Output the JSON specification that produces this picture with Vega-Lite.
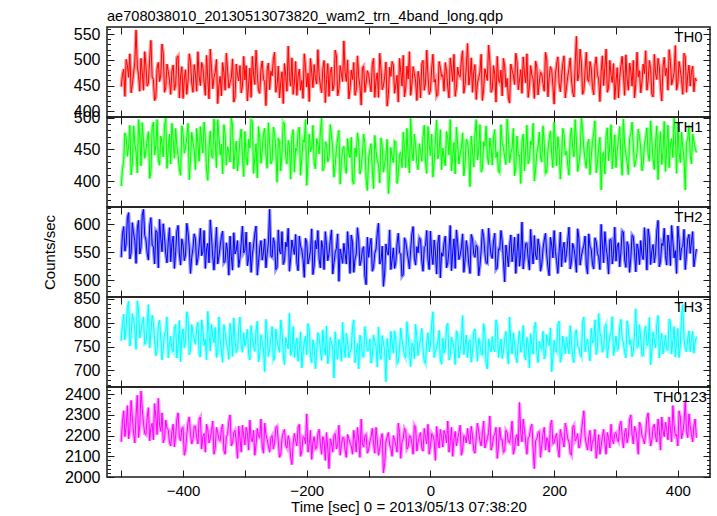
{
"$schema": "https://vega.github.io/schema/vega-lite/v6.json",
"background": "white",
"padding": {"left": 41, "top": 8, "right": 6, "bottom": 2},
"spacing": 0,
"bounds": "flush",
"config": {
 "font": "Liberation Sans",
 "view": {"stroke": "#1a1a1a", "strokeWidth": 1.5},
 "axis": {"domain": false, "grid": false, "tickColor": "#1a1a1a", "tickWidth": 1, "labelFont": "Liberation Sans", "labelFontSize": 15, "labelColor": "#000", "titleFont": "Liberation Sans", "titleFontSize": 15, "titleFontWeight": "normal", "titleColor": "#000", "labelFlush": false, "labelOverlap": false, "format": "d"},
 "axisY": {"labelFontSize": 16}
},
"datasets": {"d": [
{"t":-500,"TH0":448,"TH1":392,"TH2":541,"TH3":762,"TH0123":2170},
{"t":-496,"TH0":482,"TH1":431,"TH2":596,"TH3":818,"TH0123":2320},
{"t":-492,"TH0":501,"TH1":468,"TH2":566,"TH3":791,"TH0123":2245},
{"t":-488,"TH0":466,"TH1":455,"TH2":621,"TH3":845,"TH0123":2185},
{"t":-484,"TH0":436,"TH1":410,"TH2":548,"TH3":773,"TH0123":2370},
{"t":-480,"TH0":474,"TH1":487,"TH2":583,"TH3":806,"TH0123":2210},
{"t":-476,"TH0":558,"TH1":446,"TH2":530,"TH3":744,"TH0123":2300},
{"t":-472,"TH0":470,"TH1":497,"TH2":607,"TH3":829,"TH0123":2190},
{"t":-468,"TH0":503,"TH1":424,"TH2":559,"TH3":785,"TH0123":2415},
{"t":-464,"TH0":441,"TH1":462,"TH2":627,"TH3":812,"TH0123":2260},
{"t":-460,"TH0":487,"TH1":449,"TH2":572,"TH3":757,"TH0123":2205},
{"t":-456,"TH0":455,"TH1":478,"TH2":536,"TH3":838,"TH0123":2335},
{"t":-452,"TH0":538,"TH1":415,"TH2":612,"TH3":779,"TH0123":2240},
{"t":-448,"TH0":462,"TH1":493,"TH2":560,"TH3":801,"TH0123":2180},
{"t":-444,"TH0":428,"TH1":456,"TH2":589,"TH3":731,"TH0123":2290},
{"t":-440,"TH0":495,"TH1":432,"TH2":522,"TH3":794,"TH0123":2380},
{"t":-436,"TH0":471,"TH1":471,"TH2":574,"TH3":768,"TH0123":2220},
{"t":-432,"TH0":512,"TH1":438,"TH2":601,"TH3":745,"TH0123":2165},
{"t":-428,"TH0":446,"TH1":499,"TH2":547,"TH3":782,"TH0123":2275},
{"t":-424,"TH0":478,"TH1":451,"TH2":568,"TH3":726,"TH0123":2230},
{"t":-420,"TH0":433,"TH1":427,"TH2":533,"TH3":771,"TH0123":2150},
{"t":-416,"TH0":490,"TH1":466,"TH2":579,"TH3":739,"TH0123":2255},
{"t":-412,"TH0":452,"TH1":483,"TH2":551,"TH3":796,"TH0123":2200},
{"t":-408,"TH0":508,"TH1":440,"TH2":598,"TH3":752,"TH0123":2310},
{"t":-404,"TH0":469,"TH1":409,"TH2":527,"TH3":718,"TH0123":2175},
{"t":-400,"TH0":425,"TH1":475,"TH2":563,"TH3":787,"TH0123":2240},
{"t":-396,"TH0":481,"TH1":452,"TH2":545,"TH3":760,"TH0123":2130},
{"t":-392,"TH0":459,"TH1":491,"TH2":586,"TH3":809,"TH0123":2265},
{"t":-388,"TH0":497,"TH1":433,"TH2":512,"TH3":743,"TH0123":2210},
{"t":-384,"TH0":437,"TH1":460,"TH2":557,"TH3":778,"TH0123":2180},
{"t":-380,"TH0":472,"TH1":418,"TH2":574,"TH3":755,"TH0123":2245},
{"t":-376,"TH0":516,"TH1":457,"TH2":539,"TH3":801,"TH0123":2160},
{"t":-372,"TH0":450,"TH1":486,"TH2":593,"TH3":728,"TH0123":2290},
{"t":-368,"TH0":486,"TH1":444,"TH2":550,"TH3":784,"TH0123":2195},
{"t":-364,"TH0":431,"TH1":469,"TH2":521,"TH3":766,"TH0123":2120},
{"t":-360,"TH0":463,"TH1":401,"TH2":566,"TH3":824,"TH0123":2230},
{"t":-356,"TH0":521,"TH1":479,"TH2":608,"TH3":741,"TH0123":2185},
{"t":-352,"TH0":444,"TH1":436,"TH2":542,"TH3":770,"TH0123":2270},
{"t":-348,"TH0":476,"TH1":462,"TH2":556,"TH3":790,"TH0123":2140},
{"t":-344,"TH0":415,"TH1":497,"TH2":529,"TH3":736,"TH0123":2215},
{"t":-340,"TH0":468,"TH1":441,"TH2":561,"TH3":762,"TH0123":2175},
{"t":-336,"TH0":495,"TH1":411,"TH2":588,"TH3":717,"TH0123":2255},
{"t":-332,"TH0":441,"TH1":473,"TH2":534,"TH3":781,"TH0123":2110},
{"t":-328,"TH0":479,"TH1":454,"TH2":552,"TH3":748,"TH0123":2205},
{"t":-324,"TH0":456,"TH1":430,"TH2":579,"TH3":799,"TH0123":2300},
{"t":-320,"TH0":502,"TH1":488,"TH2":518,"TH3":729,"TH0123":2165},
{"t":-316,"TH0":427,"TH1":447,"TH2":547,"TH3":765,"TH0123":2225},
{"t":-312,"TH0":470,"TH1":416,"TH2":571,"TH3":745,"TH0123":2090},
{"t":-308,"TH0":489,"TH1":466,"TH2":539,"TH3":812,"TH0123":2190},
{"t":-304,"TH0":448,"TH1":439,"TH2":597,"TH3":738,"TH0123":2250},
{"t":-300,"TH0":461,"TH1":478,"TH2":553,"TH3":751,"TH0123":2155},
{"t":-296,"TH0":420,"TH1":425,"TH2":526,"TH3":786,"TH0123":2215},
{"t":-292,"TH0":484,"TH1":452,"TH2":568,"TH3":722,"TH0123":2275},
{"t":-288,"TH0":507,"TH1":494,"TH2":545,"TH3":769,"TH0123":2170},
{"t":-284,"TH0":452,"TH1":437,"TH2":583,"TH3":740,"TH0123":2105},
{"t":-280,"TH0":473,"TH1":405,"TH2":509,"TH3":803,"TH0123":2235},
{"t":-276,"TH0":435,"TH1":468,"TH2":558,"TH3":733,"TH0123":2190},
{"t":-272,"TH0":498,"TH1":449,"TH2":536,"TH3":758,"TH0123":2145},
{"t":-268,"TH0":458,"TH1":483,"TH2":574,"TH3":697,"TH0123":2260},
{"t":-264,"TH0":481,"TH1":420,"TH2":548,"TH3":774,"TH0123":2180},
{"t":-260,"TH0":442,"TH1":459,"TH2":627,"TH3":746,"TH0123":2120},
{"t":-256,"TH0":469,"TH1":433,"TH2":541,"TH3":792,"TH0123":2200},
{"t":-252,"TH0":515,"TH1":476,"TH2":566,"TH3":725,"TH0123":2165},
{"t":-248,"TH0":450,"TH1":398,"TH2":523,"TH3":763,"TH0123":2245},
{"t":-244,"TH0":426,"TH1":462,"TH2":552,"TH3":738,"TH0123":2095},
{"t":-240,"TH0":477,"TH1":445,"TH2":587,"TH3":781,"TH0123":2185},
{"t":-236,"TH0":493,"TH1":490,"TH2":535,"TH3":712,"TH0123":2230},
{"t":-232,"TH0":439,"TH1":427,"TH2":560,"TH3":756,"TH0123":2140},
{"t":-228,"TH0":466,"TH1":455,"TH2":516,"TH3":820,"TH0123":2175},
{"t":-224,"TH0":504,"TH1":471,"TH2":572,"TH3":741,"TH0123":2060},
{"t":-220,"TH0":455,"TH1":414,"TH2":546,"TH3":727,"TH0123":2210},
{"t":-216,"TH0":431,"TH1":448,"TH2":531,"TH3":768,"TH0123":2150},
{"t":-212,"TH0":482,"TH1":485,"TH2":579,"TH3":744,"TH0123":2255},
{"t":-208,"TH0":460,"TH1":436,"TH2":554,"TH3":705,"TH0123":2125},
{"t":-204,"TH0":512,"TH1":461,"TH2":505,"TH3":759,"TH0123":2190},
{"t":-200,"TH0":447,"TH1":393,"TH2":568,"TH3":733,"TH0123":2305},
{"t":-196,"TH0":419,"TH1":474,"TH2":540,"TH3":786,"TH0123":2160},
{"t":-192,"TH0":475,"TH1":452,"TH2":592,"TH3":716,"TH0123":2085},
{"t":-188,"TH0":491,"TH1":429,"TH2":527,"TH3":751,"TH0123":2195},
{"t":-184,"TH0":453,"TH1":467,"TH2":556,"TH3":737,"TH0123":2140},
{"t":-180,"TH0":470,"TH1":443,"TH2":538,"TH3":771,"TH0123":2230},
{"t":-176,"TH0":436,"TH1":499,"TH2":571,"TH3":721,"TH0123":2110},
{"t":-172,"TH0":499,"TH1":421,"TH2":519,"TH3":748,"TH0123":2175},
{"t":-168,"TH0":462,"TH1":458,"TH2":562,"TH3":793,"TH0123":2215},
{"t":-164,"TH0":429,"TH1":437,"TH2":548,"TH3":730,"TH0123":2040},
{"t":-160,"TH0":486,"TH1":472,"TH2":590,"TH3":756,"TH0123":2165},
{"t":-156,"TH0":451,"TH1":406,"TH2":531,"TH3":684,"TH0123":2200},
{"t":-152,"TH0":508,"TH1":451,"TH2":557,"TH3":742,"TH0123":2135},
{"t":-148,"TH0":444,"TH1":480,"TH2":498,"TH3":765,"TH0123":2250},
{"t":-144,"TH0":473,"TH1":432,"TH2":544,"TH3":719,"TH0123":2155},
{"t":-140,"TH0":537,"TH1":455,"TH2":566,"TH3":752,"TH0123":2190},
{"t":-136,"TH0":458,"TH1":412,"TH2":529,"TH3":778,"TH0123":2095},
{"t":-132,"TH0":424,"TH1":444,"TH2":553,"TH3":726,"TH0123":2185},
{"t":-128,"TH0":480,"TH1":469,"TH2":581,"TH3":745,"TH0123":2150},
{"t":-124,"TH0":495,"TH1":395,"TH2":514,"TH3":806,"TH0123":2225},
{"t":-120,"TH0":441,"TH1":438,"TH2":547,"TH3":735,"TH0123":2120},
{"t":-116,"TH0":467,"TH1":461,"TH2":572,"TH3":703,"TH0123":2175},
{"t":-112,"TH0":412,"TH1":420,"TH2":536,"TH3":760,"TH0123":2280},
{"t":-108,"TH0":488,"TH1":474,"TH2":560,"TH3":729,"TH0123":2145},
{"t":-104,"TH0":455,"TH1":403,"TH2":492,"TH3":769,"TH0123":2205},
{"t":-100,"TH0":472,"TH1":436,"TH2":541,"TH3":741,"TH0123":2130},
{"t":-96,"TH0":438,"TH1":459,"TH2":575,"TH3":715,"TH0123":2195},
{"t":-92,"TH0":503,"TH1":388,"TH2":523,"TH3":774,"TH0123":2160},
{"t":-88,"TH0":461,"TH1":447,"TH2":556,"TH3":750,"TH0123":2240},
{"t":-84,"TH0":427,"TH1":426,"TH2":602,"TH3":791,"TH0123":2105},
{"t":-80,"TH0":484,"TH1":468,"TH2":534,"TH3":723,"TH0123":2185},
{"t":-76,"TH0":449,"TH1":414,"TH2":489,"TH3":757,"TH0123":2020},
{"t":-72,"TH0":496,"TH1":441,"TH2":565,"TH3":676,"TH0123":2170},
{"t":-68,"TH0":433,"TH1":380,"TH2":545,"TH3":744,"TH0123":2215},
{"t":-64,"TH0":468,"TH1":453,"TH2":519,"TH3":782,"TH0123":2140},
{"t":-60,"TH0":490,"TH1":429,"TH2":558,"TH3":736,"TH0123":2200},
{"t":-56,"TH0":452,"TH1":462,"TH2":532,"TH3":762,"TH0123":2155},
{"t":-52,"TH0":418,"TH1":410,"TH2":584,"TH3":718,"TH0123":2260},
{"t":-48,"TH0":476,"TH1":445,"TH2":547,"TH3":789,"TH0123":2090},
{"t":-44,"TH0":509,"TH1":477,"TH2":510,"TH3":747,"TH0123":2185},
{"t":-40,"TH0":445,"TH1":421,"TH2":569,"TH3":726,"TH0123":2225},
{"t":-36,"TH0":463,"TH1":438,"TH2":538,"TH3":771,"TH0123":2145},
{"t":-32,"TH0":431,"TH1":499,"TH2":555,"TH3":708,"TH0123":2195},
{"t":-28,"TH0":487,"TH1":432,"TH2":596,"TH3":752,"TH0123":2110},
{"t":-24,"TH0":459,"TH1":456,"TH2":527,"TH3":797,"TH0123":2240},
{"t":-20,"TH0":478,"TH1":418,"TH2":549,"TH3":731,"TH0123":2170},
{"t":-16,"TH0":426,"TH1":447,"TH2":573,"TH3":766,"TH0123":2215},
{"t":-12,"TH0":499,"TH1":470,"TH2":516,"TH3":744,"TH0123":2125},
{"t":-8,"TH0":455,"TH1":429,"TH2":561,"TH3":714,"TH0123":2190},
{"t":-4,"TH0":468,"TH1":486,"TH2":537,"TH3":779,"TH0123":2255},
{"t":0,"TH0":440,"TH1":440,"TH2":588,"TH3":752,"TH0123":2150},
{"t":4,"TH0":511,"TH1":406,"TH2":528,"TH3":823,"TH0123":2200},
{"t":8,"TH0":462,"TH1":463,"TH2":552,"TH3":738,"TH0123":2080},
{"t":12,"TH0":433,"TH1":435,"TH2":566,"TH3":760,"TH0123":2180},
{"t":16,"TH0":485,"TH1":481,"TH2":504,"TH3":722,"TH0123":2230},
{"t":20,"TH0":471,"TH1":452,"TH2":543,"TH3":768,"TH0123":2145},
{"t":24,"TH0":495,"TH1":424,"TH2":579,"TH3":745,"TH0123":2205},
{"t":28,"TH0":447,"TH1":467,"TH2":531,"TH3":799,"TH0123":2270},
{"t":32,"TH0":504,"TH1":497,"TH2":598,"TH3":729,"TH0123":2165},
{"t":36,"TH0":458,"TH1":439,"TH2":550,"TH3":757,"TH0123":2100},
{"t":40,"TH0":429,"TH1":411,"TH2":521,"TH3":712,"TH0123":2220},
{"t":44,"TH0":486,"TH1":458,"TH2":567,"TH3":776,"TH0123":2185},
{"t":48,"TH0":467,"TH1":443,"TH2":545,"TH3":741,"TH0123":2250},
{"t":52,"TH0":518,"TH1":476,"TH2":583,"TH3":815,"TH0123":2130},
{"t":56,"TH0":452,"TH1":428,"TH2":536,"TH3":753,"TH0123":2195},
{"t":60,"TH0":532,"TH1":462,"TH2":556,"TH3":726,"TH0123":2235},
{"t":64,"TH0":469,"TH1":391,"TH2":512,"TH3":764,"TH0123":2160},
{"t":68,"TH0":437,"TH1":448,"TH2":574,"TH3":740,"TH0123":2200},
{"t":72,"TH0":491,"TH1":473,"TH2":541,"TH3":787,"TH0123":2115},
{"t":76,"TH0":455,"TH1":433,"TH2":559,"TH3":719,"TH0123":2260},
{"t":80,"TH0":476,"TH1":489,"TH2":526,"TH3":755,"TH0123":2175},
{"t":84,"TH0":421,"TH1":419,"TH2":591,"TH3":732,"TH0123":2210},
{"t":88,"TH0":483,"TH1":455,"TH2":548,"TH3":779,"TH0123":2140},
{"t":92,"TH0":460,"TH1":440,"TH2":530,"TH3":703,"TH0123":2185},
{"t":96,"TH0":498,"TH1":468,"TH2":565,"TH3":748,"TH0123":2295},
{"t":100,"TH0":443,"TH1":425,"TH2":539,"TH3":771,"TH0123":2150},
{"t":104,"TH0":472,"TH1":481,"TH2":584,"TH3":739,"TH0123":2205},
{"t":108,"TH0":507,"TH1":446,"TH2":522,"TH3":794,"TH0123":2090},
{"t":112,"TH0":456,"TH1":413,"TH2":555,"TH3":751,"TH0123":2240},
{"t":116,"TH0":430,"TH1":460,"TH2":570,"TH3":725,"TH0123":2180},
{"t":120,"TH0":489,"TH1":437,"TH2":497,"TH3":766,"TH0123":2125},
{"t":124,"TH0":464,"TH1":498,"TH2":546,"TH3":742,"TH0123":2215},
{"t":128,"TH0":416,"TH1":429,"TH2":562,"TH3":812,"TH0123":2165},
{"t":132,"TH0":480,"TH1":452,"TH2":533,"TH3":734,"TH0123":2270},
{"t":136,"TH0":452,"TH1":408,"TH2":577,"TH3":757,"TH0123":2135},
{"t":140,"TH0":497,"TH1":471,"TH2":551,"TH3":716,"TH0123":2205},
{"t":144,"TH0":461,"TH1":441,"TH2":525,"TH3":783,"TH0123":2360},
{"t":148,"TH0":435,"TH1":463,"TH2":604,"TH3":748,"TH0123":2170},
{"t":152,"TH0":474,"TH1":416,"TH2":542,"TH3":730,"TH0123":2230},
{"t":156,"TH0":512,"TH1":488,"TH2":566,"TH3":769,"TH0123":2110},
{"t":160,"TH0":448,"TH1":434,"TH2":518,"TH3":705,"TH0123":2195},
{"t":164,"TH0":470,"TH1":457,"TH2":553,"TH3":752,"TH0123":2255},
{"t":168,"TH0":425,"TH1":400,"TH2":580,"TH3":791,"TH0123":2040},
{"t":172,"TH0":486,"TH1":445,"TH2":537,"TH3":737,"TH0123":2185},
{"t":176,"TH0":457,"TH1":477,"TH2":560,"TH3":761,"TH0123":2220},
{"t":180,"TH0":473,"TH1":430,"TH2":529,"TH3":744,"TH0123":2155},
{"t":184,"TH0":439,"TH1":459,"TH2":572,"TH3":724,"TH0123":2240},
{"t":188,"TH0":502,"TH1":414,"TH2":546,"TH3":775,"TH0123":2190},
{"t":192,"TH0":466,"TH1":467,"TH2":508,"TH3":752,"TH0123":2120},
{"t":196,"TH0":481,"TH1":442,"TH2":563,"TH3":697,"TH0123":2275},
{"t":200,"TH0":414,"TH1":493,"TH2":589,"TH3":763,"TH0123":2165},
{"t":204,"TH0":492,"TH1":424,"TH2":535,"TH3":738,"TH0123":2210},
{"t":208,"TH0":455,"TH1":451,"TH2":551,"TH3":803,"TH0123":2095},
{"t":212,"TH0":469,"TH1":436,"TH2":524,"TH3":729,"TH0123":2200},
{"t":216,"TH0":508,"TH1":473,"TH2":568,"TH3":756,"TH0123":2145},
{"t":220,"TH0":447,"TH1":447,"TH2":548,"TH3":770,"TH0123":2230},
{"t":224,"TH0":483,"TH1":409,"TH2":595,"TH3":735,"TH0123":2170},
{"t":228,"TH0":461,"TH1":484,"TH2":532,"TH3":760,"TH0123":2105},
{"t":232,"TH0":428,"TH1":438,"TH2":557,"TH3":716,"TH0123":2250},
{"t":236,"TH0":546,"TH1":462,"TH2":514,"TH3":785,"TH0123":2185},
{"t":240,"TH0":472,"TH1":427,"TH2":575,"TH3":749,"TH0123":2140},
{"t":244,"TH0":496,"TH1":499,"TH2":543,"TH3":728,"TH0123":2215},
{"t":248,"TH0":440,"TH1":451,"TH2":562,"TH3":812,"TH0123":2320},
{"t":252,"TH0":515,"TH1":420,"TH2":527,"TH3":758,"TH0123":2160},
{"t":256,"TH0":458,"TH1":466,"TH2":583,"TH3":741,"TH0123":2195},
{"t":260,"TH0":484,"TH1":439,"TH2":555,"TH3":788,"TH0123":2125},
{"t":264,"TH0":432,"TH1":476,"TH2":520,"TH3":764,"TH0123":2175},
{"t":268,"TH0":506,"TH1":413,"TH2":569,"TH3":733,"TH0123":2090},
{"t":272,"TH0":463,"TH1":453,"TH2":542,"TH3":819,"TH0123":2205},
{"t":276,"TH0":477,"TH1":386,"TH2":600,"TH3":771,"TH0123":2150},
{"t":280,"TH0":450,"TH1":445,"TH2":531,"TH3":746,"TH0123":2230},
{"t":284,"TH0":521,"TH1":470,"TH2":558,"TH3":797,"TH0123":2110},
{"t":288,"TH0":445,"TH1":432,"TH2":511,"TH3":752,"TH0123":2190},
{"t":292,"TH0":470,"TH1":489,"TH2":573,"TH3":780,"TH0123":2255},
{"t":296,"TH0":493,"TH1":449,"TH2":546,"TH3":731,"TH0123":2160},
{"t":300,"TH0":457,"TH1":421,"TH2":534,"TH3":772,"TH0123":2215},
{"t":304,"TH0":426,"TH1":464,"TH2":567,"TH3":745,"TH0123":2170},
{"t":308,"TH0":489,"TH1":438,"TH2":552,"TH3":807,"TH0123":2270},
{"t":312,"TH0":472,"TH1":498,"TH2":586,"TH3":758,"TH0123":2140},
{"t":316,"TH0":510,"TH1":443,"TH2":523,"TH3":726,"TH0123":2235},
{"t":320,"TH0":441,"TH1":410,"TH2":561,"TH3":786,"TH0123":2195},
{"t":324,"TH0":478,"TH1":474,"TH2":540,"TH3":764,"TH0123":2300},
{"t":328,"TH0":499,"TH1":456,"TH2":578,"TH3":739,"TH0123":2160},
{"t":332,"TH0":453,"TH1":431,"TH2":515,"TH3":829,"TH0123":2225},
{"t":336,"TH0":467,"TH1":482,"TH2":556,"TH3":750,"TH0123":2110},
{"t":340,"TH0":436,"TH1":452,"TH2":571,"TH3":768,"TH0123":2250},
{"t":344,"TH0":492,"TH1":426,"TH2":537,"TH3":731,"TH0123":2185},
{"t":348,"TH0":518,"TH1":469,"TH2":559,"TH3":793,"TH0123":2210},
{"t":352,"TH0":460,"TH1":441,"TH2":592,"TH3":756,"TH0123":2310},
{"t":356,"TH0":481,"TH1":495,"TH2":528,"TH3":712,"TH0123":2150},
{"t":360,"TH0":428,"TH1":434,"TH2":564,"TH3":781,"TH0123":2240},
{"t":364,"TH0":474,"TH1":461,"TH2":549,"TH3":747,"TH0123":2195},
{"t":368,"TH0":503,"TH1":402,"TH2":607,"TH3":815,"TH0123":2280},
{"t":372,"TH0":448,"TH1":478,"TH2":533,"TH3":760,"TH0123":2130},
{"t":376,"TH0":486,"TH1":447,"TH2":562,"TH3":735,"TH0123":2225},
{"t":380,"TH0":469,"TH1":415,"TH2":544,"TH3":774,"TH0123":2265},
{"t":384,"TH0":441,"TH1":488,"TH2":581,"TH3":742,"TH0123":2180},
{"t":388,"TH0":497,"TH1":458,"TH2":526,"TH3":801,"TH0123":2235},
{"t":392,"TH0":463,"TH1":437,"TH2":569,"TH3":763,"TH0123":2345},
{"t":396,"TH0":528,"TH1":472,"TH2":553,"TH3":728,"TH0123":2200},
{"t":400,"TH0":455,"TH1":493,"TH2":597,"TH3":788,"TH0123":2150},
{"t":404,"TH0":480,"TH1":429,"TH2":536,"TH3":753,"TH0123":2290},
{"t":408,"TH0":433,"TH1":453,"TH2":560,"TH3":838,"TH0123":2215},
{"t":412,"TH0":506,"TH1":386,"TH2":519,"TH3":746,"TH0123":2370},
{"t":416,"TH0":471,"TH1":466,"TH2":574,"TH3":767,"TH0123":2190},
{"t":420,"TH0":449,"TH1":440,"TH2":548,"TH3":739,"TH0123":2245},
{"t":424,"TH0":488,"TH1":474,"TH2":587,"TH3":782,"TH0123":2170},
{"t":428,"TH0":465,"TH1":452,"TH2":541,"TH3":758,"TH0123":2280},
{"t":-498,"TH0":471,"TH1":418,"TH2":583,"TH3":796,"TH0123":2265},
{"t":-494,"TH0":429,"TH1":476,"TH2":552,"TH3":764,"TH0123":2195},
{"t":-490,"TH0":489,"TH1":439,"TH2":612,"TH3":832,"TH0123":2345},
{"t":-486,"TH0":512,"TH1":488,"TH2":538,"TH3":751,"TH0123":2230},
{"t":-482,"TH0":452,"TH1":427,"TH2":603,"TH3":819,"TH0123":2285},
{"t":-478,"TH0":497,"TH1":459,"TH2":571,"TH3":787,"TH0123":2165},
{"t":-474,"TH0":488,"TH1":413,"TH2":592,"TH3":846,"TH0123":2395},
{"t":-470,"TH0":439,"TH1":471,"TH2":547,"TH3":768,"TH0123":2250},
{"t":-466,"TH0":475,"TH1":492,"TH2":616,"TH3":801,"TH0123":2330},
{"t":-462,"TH0":516,"TH1":436,"TH2":580,"TH3":755,"TH0123":2210},
{"t":-458,"TH0":449,"TH1":465,"TH2":548,"TH3":792,"TH0123":2290},
{"t":-454,"TH0":503,"TH1":404,"TH2":597,"TH3":747,"TH0123":2175},
{"t":-450,"TH0":467,"TH1":484,"TH2":563,"TH3":816,"TH0123":2260},
{"t":-446,"TH0":421,"TH1":441,"TH2":529,"TH3":763,"TH0123":2355},
{"t":-442,"TH0":484,"TH1":497,"TH2":586,"TH3":741,"TH0123":2205},
{"t":-438,"TH0":458,"TH1":425,"TH2":609,"TH3":805,"TH0123":2250},
{"t":-434,"TH0":531,"TH1":458,"TH2":551,"TH3":722,"TH0123":2310},
{"t":-430,"TH0":437,"TH1":487,"TH2":576,"TH3":778,"TH0123":2185},
{"t":-426,"TH0":492,"TH1":420,"TH2":531,"TH3":812,"TH0123":2235},
{"t":-422,"TH0":461,"TH1":474,"TH2":594,"TH3":754,"TH0123":2170},
{"t":-418,"TH0":478,"TH1":491,"TH2":566,"TH3":744,"TH0123":2220},
{"t":-414,"TH0":441,"TH1":436,"TH2":521,"TH3":789,"TH0123":2145},
{"t":-410,"TH0":505,"TH1":455,"TH2":588,"TH3":726,"TH0123":2280},
{"t":-406,"TH0":426,"TH1":419,"TH2":547,"TH3":805,"TH0123":2190},
{"t":-402,"TH0":487,"TH1":487,"TH2":574,"TH3":770,"TH0123":2235},
{"t":-398,"TH0":463,"TH1":444,"TH2":535,"TH3":747,"TH0123":2105},
{"t":-394,"TH0":433,"TH1":468,"TH2":602,"TH3":823,"TH0123":2205},
{"t":-390,"TH0":512,"TH1":402,"TH2":559,"TH3":733,"TH0123":2290},
{"t":-386,"TH0":455,"TH1":477,"TH2":541,"TH3":796,"TH0123":2160},
{"t":-382,"TH0":491,"TH1":450,"TH2":583,"TH3":764,"TH0123":2245},
{"t":-378,"TH0":439,"TH1":483,"TH2":527,"TH3":788,"TH0123":2190},
{"t":-374,"TH0":468,"TH1":431,"TH2":561,"TH3":734,"TH0123":2280},
{"t":-370,"TH0":495,"TH1":462,"TH2":544,"TH3":806,"TH0123":2135},
{"t":-366,"TH0":457,"TH1":493,"TH2":589,"TH3":752,"TH0123":2210},
{"t":-362,"TH0":509,"TH1":416,"TH2":556,"TH3":722,"TH0123":2255},
{"t":-358,"TH0":424,"TH1":454,"TH2":531,"TH3":779,"TH0123":2165},
{"t":-354,"TH0":483,"TH1":440,"TH2":577,"TH3":797,"TH0123":2225},
{"t":-350,"TH0":466,"TH1":498,"TH2":518,"TH3":758,"TH0123":2110},
{"t":-346,"TH0":501,"TH1":421,"TH2":595,"TH3":727,"TH0123":2240},
{"t":-342,"TH0":452,"TH1":470,"TH2":543,"TH3":812,"TH0123":2180},
{"t":-338,"TH0":430,"TH1":458,"TH2":578,"TH3":741,"TH0123":2230},
{"t":-334,"TH0":476,"TH1":489,"TH2":531,"TH3":796,"TH0123":2130},
{"t":-330,"TH0":513,"TH1":425,"TH2":567,"TH3":758,"TH0123":2195},
{"t":-326,"TH0":445,"TH1":446,"TH2":509,"TH3":723,"TH0123":2270},
{"t":-322,"TH0":465,"TH1":499,"TH2":543,"TH3":774,"TH0123":2150},
{"t":-318,"TH0":418,"TH1":419,"TH2":585,"TH3":810,"TH0123":2215},
{"t":-314,"TH0":492,"TH1":463,"TH2":554,"TH3":737,"TH0123":2175},
{"t":-310,"TH0":459,"TH1":438,"TH2":523,"TH3":788,"TH0123":2245},
{"t":-306,"TH0":436,"TH1":482,"TH2":566,"TH3":751,"TH0123":2120},
{"t":-302,"TH0":507,"TH1":407,"TH2":549,"TH3":779,"TH0123":2200},
{"t":-298,"TH0":489,"TH1":436,"TH2":586,"TH3":766,"TH0123":2240},
{"t":-294,"TH0":453,"TH1":466,"TH2":539,"TH3":735,"TH0123":2130},
{"t":-290,"TH0":427,"TH1":497,"TH2":514,"TH3":794,"TH0123":2185},
{"t":-286,"TH0":471,"TH1":412,"TH2":563,"TH3":751,"TH0123":2225},
{"t":-282,"TH0":519,"TH1":459,"TH2":597,"TH3":783,"TH0123":2160},
{"t":-278,"TH0":440,"TH1":486,"TH2":532,"TH3":718,"TH0123":2195},
{"t":-274,"TH0":482,"TH1":428,"TH2":571,"TH3":775,"TH0123":2280},
{"t":-270,"TH0":462,"TH1":475,"TH2":550,"TH3":746,"TH0123":2115},
{"t":-266,"TH0":411,"TH1":441,"TH2":522,"TH3":807,"TH0123":2205},
{"t":-262,"TH0":494,"TH1":492,"TH2":567,"TH3":729,"TH0123":2150},
{"t":-258,"TH0":478,"TH1":427,"TH2":543,"TH3":768,"TH0123":2190},
{"t":-254,"TH0":501,"TH1":485,"TH2":576,"TH3":721,"TH0123":2135},
{"t":-250,"TH0":437,"TH1":449,"TH2":519,"TH3":787,"TH0123":2240},
{"t":-246,"TH0":488,"TH1":468,"TH2":590,"TH3":749,"TH0123":2170},
{"t":-242,"TH0":458,"TH1":416,"TH2":547,"TH3":806,"TH0123":2110},
{"t":-238,"TH0":415,"TH1":493,"TH2":528,"TH3":734,"TH0123":2215},
{"t":-234,"TH0":470,"TH1":437,"TH2":568,"TH3":769,"TH0123":2150},
{"t":-230,"TH0":527,"TH1":464,"TH2":593,"TH3":745,"TH0123":2200},
{"t":-226,"TH0":449,"TH1":403,"TH2":540,"TH3":731,"TH0123":2095},
{"t":-222,"TH0":433,"TH1":481,"TH2":557,"TH3":792,"TH0123":2165},
{"t":-218,"TH0":497,"TH1":452,"TH2":582,"TH3":752,"TH0123":2175},
{"t":-214,"TH0":468,"TH1":478,"TH2":517,"TH3":719,"TH0123":2240},
{"t":-210,"TH0":441,"TH1":409,"TH2":561,"TH3":781,"TH0123":2100},
{"t":-206,"TH0":425,"TH1":465,"TH2":537,"TH3":736,"TH0123":2195},
{"t":-202,"TH0":486,"TH1":497,"TH2":575,"TH3":772,"TH0123":2160},
{"t":-198,"TH0":474,"TH1":431,"TH2":529,"TH3":798,"TH0123":2120},
{"t":-194,"TH0":503,"TH1":446,"TH2":553,"TH3":727,"TH0123":2225},
{"t":-190,"TH0":446,"TH1":488,"TH2":510,"TH3":764,"TH0123":2170},
{"t":-186,"TH0":464,"TH1":419,"TH2":571,"TH3":703,"TH0123":2135},
{"t":-182,"TH0":520,"TH1":458,"TH2":589,"TH3":779,"TH0123":2210},
{"t":-178,"TH0":451,"TH1":477,"TH2":522,"TH3":744,"TH0123":2160},
{"t":-174,"TH0":482,"TH1":416,"TH2":558,"TH3":785,"TH0123":2195},
{"t":-170,"TH0":417,"TH1":462,"TH2":587,"TH3":732,"TH0123":2080},
{"t":-166,"TH0":493,"TH1":430,"TH2":535,"TH3":714,"TH0123":2140},
{"t":-162,"TH0":476,"TH1":489,"TH2":571,"TH3":769,"TH0123":2185},
{"t":-158,"TH0":440,"TH1":451,"TH2":511,"TH3":749,"TH0123":2120},
{"t":-154,"TH0":519,"TH1":425,"TH2":549,"TH3":781,"TH0123":2210},
{"t":-150,"TH0":430,"TH1":468,"TH2":583,"TH3":723,"TH0123":2155},
{"t":-146,"TH0":489,"TH1":395,"TH2":556,"TH3":754,"TH0123":2105},
{"t":-142,"TH0":458,"TH1":450,"TH2":530,"TH3":801,"TH0123":2190},
{"t":-138,"TH0":476,"TH1":421,"TH2":548,"TH3":727,"TH0123":2130},
{"t":-134,"TH0":500,"TH1":467,"TH2":587,"TH3":762,"TH0123":2205},
{"t":-130,"TH0":443,"TH1":437,"TH2":512,"TH3":738,"TH0123":2165},
{"t":-126,"TH0":462,"TH1":399,"TH2":568,"TH3":791,"TH0123":2110},
{"t":-122,"TH0":431,"TH1":452,"TH2":538,"TH3":716,"TH0123":2180},
{"t":-118,"TH0":508,"TH1":476,"TH2":594,"TH3":757,"TH0123":2240},
{"t":-114,"TH0":449,"TH1":411,"TH2":526,"TH3":774,"TH0123":2095},
{"t":-110,"TH0":485,"TH1":443,"TH2":555,"TH3":729,"TH0123":2160},
{"t":-106,"TH0":437,"TH1":459,"TH2":507,"TH3":792,"TH0123":2200},
{"t":-102,"TH0":479,"TH1":385,"TH2":577,"TH3":741,"TH0123":2115},
{"t":-98,"TH0":454,"TH1":449,"TH2":562,"TH3":766,"TH0123":2170},
{"t":-94,"TH0":491,"TH1":418,"TH2":516,"TH3":728,"TH0123":2235},
{"t":-90,"TH0":427,"TH1":472,"TH2":548,"TH3":759,"TH0123":2115},
{"t":-86,"TH0":475,"TH1":432,"TH2":584,"TH3":707,"TH0123":2180},
{"t":-82,"TH0":513,"TH1":397,"TH2":529,"TH3":736,"TH0123":2140},
{"t":-78,"TH0":442,"TH1":455,"TH2":561,"TH3":773,"TH0123":2210},
{"t":-74,"TH0":468,"TH1":428,"TH2":513,"TH3":741,"TH0123":2065},
{"t":-70,"TH0":410,"TH1":466,"TH2":550,"TH3":767,"TH0123":2195},
{"t":-66,"TH0":486,"TH1":409,"TH2":590,"TH3":722,"TH0123":2155},
{"t":-62,"TH0":497,"TH1":437,"TH2":537,"TH3":758,"TH0123":2100},
{"t":-58,"TH0":435,"TH1":463,"TH2":521,"TH3":783,"TH0123":2180},
{"t":-54,"TH0":470,"TH1":396,"TH2":565,"TH3":714,"TH0123":2120},
{"t":-50,"TH0":503,"TH1":442,"TH2":549,"TH3":744,"TH0123":2215},
{"t":-46,"TH0":449,"TH1":421,"TH2":507,"TH3":763,"TH0123":2170},
{"t":-42,"TH0":428,"TH1":455,"TH2":576,"TH3":731,"TH0123":2235},
{"t":-38,"TH0":488,"TH1":483,"TH2":553,"TH3":802,"TH0123":2135},
{"t":-34,"TH0":516,"TH1":413,"TH2":520,"TH3":739,"TH0123":2200},
{"t":-30,"TH0":452,"TH1":446,"TH2":583,"TH3":757,"TH0123":2160},
{"t":-26,"TH0":474,"TH1":474,"TH2":539,"TH3":724,"TH0123":2250},
{"t":-22,"TH0":421,"TH1":428,"TH2":560,"TH3":769,"TH0123":2125},
{"t":-18,"TH0":463,"TH1":459,"TH2":576,"TH3":752,"TH0123":2195},
{"t":-14,"TH0":492,"TH1":431,"TH2":534,"TH3":788,"TH0123":2140},
{"t":-10,"TH0":441,"TH1":488,"TH2":559,"TH3":719,"TH0123":2235},
{"t":-6,"TH0":519,"TH1":412,"TH2":589,"TH3":761,"TH0123":2160},
{"t":-2,"TH0":433,"TH1":457,"TH2":519,"TH3":739,"TH0123":2110},
{"t":2,"TH0":484,"TH1":474,"TH2":546,"TH3":797,"TH0123":2210},
{"t":6,"TH0":457,"TH1":429,"TH2":572,"TH3":727,"TH0123":2175},
{"t":10,"TH0":429,"TH1":496,"TH2":511,"TH3":749,"TH0123":2245},
{"t":14,"TH0":497,"TH1":447,"TH2":581,"TH3":784,"TH0123":2140},
{"t":18,"TH0":468,"TH1":418,"TH2":549,"TH3":713,"TH0123":2190},
{"t":22,"TH0":439,"TH1":436,"TH2":567,"TH3":736,"TH0123":2225},
{"t":26,"TH0":478,"TH1":478,"TH2":522,"TH3":791,"TH0123":2165},
{"t":30,"TH0":426,"TH1":441,"TH2":554,"TH3":722,"TH0123":2120},
{"t":34,"TH0":483,"TH1":416,"TH2":517,"TH3":770,"TH0123":2240},
{"t":38,"TH0":511,"TH1":461,"TH2":574,"TH3":747,"TH0123":2185},
{"t":42,"TH0":446,"TH1":485,"TH2":590,"TH3":783,"TH0123":2150},
{"t":46,"TH0":470,"TH1":427,"TH2":537,"TH3":726,"TH0123":2215},
{"t":50,"TH0":499,"TH1":452,"TH2":558,"TH3":764,"TH0123":2105},
{"t":54,"TH0":435,"TH1":408,"TH2":514,"TH3":733,"TH0123":2200},
{"t":58,"TH0":488,"TH1":466,"TH2":571,"TH3":774,"TH0123":2165},
{"t":62,"TH0":451,"TH1":439,"TH2":529,"TH3":759,"TH0123":2180},
{"t":66,"TH0":504,"TH1":471,"TH2":582,"TH3":717,"TH0123":2245},
{"t":70,"TH0":477,"TH1":422,"TH2":547,"TH3":781,"TH0123":2130},
{"t":74,"TH0":423,"TH1":497,"TH2":563,"TH3":752,"TH0123":2190},
{"t":78,"TH0":466,"TH1":448,"TH2":508,"TH3":768,"TH0123":2220},
{"t":82,"TH0":511,"TH1":414,"TH2":553,"TH3":735,"TH0123":2150},
{"t":86,"TH0":443,"TH1":462,"TH2":578,"TH3":798,"TH0123":2270},
{"t":90,"TH0":472,"TH1":487,"TH2":531,"TH3":714,"TH0123":2165},
{"t":94,"TH0":529,"TH1":426,"TH2":593,"TH3":766,"TH0123":2215},
{"t":98,"TH0":437,"TH1":451,"TH2":545,"TH3":739,"TH0123":2130},
{"t":102,"TH0":489,"TH1":470,"TH2":570,"TH3":747,"TH0123":2195},
{"t":106,"TH0":418,"TH1":437,"TH2":519,"TH3":806,"TH0123":2240},
{"t":110,"TH0":461,"TH1":415,"TH2":556,"TH3":727,"TH0123":2150},
{"t":114,"TH0":480,"TH1":489,"TH2":589,"TH3":766,"TH0123":2180},
{"t":118,"TH0":503,"TH1":453,"TH2":535,"TH3":738,"TH0123":2120},
{"t":122,"TH0":447,"TH1":426,"TH2":563,"TH3":782,"TH0123":2225},
{"t":126,"TH0":426,"TH1":468,"TH2":524,"TH3":713,"TH0123":2170},
{"t":130,"TH0":492,"TH1":444,"TH2":581,"TH3":757,"TH0123":2205},
{"t":134,"TH0":471,"TH1":483,"TH2":550,"TH3":779,"TH0123":2110},
{"t":138,"TH0":513,"TH1":421,"TH2":512,"TH3":730,"TH0123":2190},
{"t":142,"TH0":442,"TH1":440,"TH2":583,"TH3":763,"TH0123":2150},
{"t":146,"TH0":481,"TH1":396,"TH2":547,"TH3":738,"TH0123":2215},
{"t":150,"TH0":506,"TH1":474,"TH2":520,"TH3":794,"TH0123":2280},
{"t":154,"TH0":455,"TH1":449,"TH2":566,"TH3":722,"TH0123":2165},
{"t":158,"TH0":427,"TH1":427,"TH2":538,"TH3":756,"TH0123":2190},
{"t":162,"TH0":489,"TH1":463,"TH2":591,"TH3":777,"TH0123":2240},
{"t":166,"TH0":463,"TH1":491,"TH2":529,"TH3":734,"TH0123":2135},
{"t":170,"TH0":498,"TH1":418,"TH2":545,"TH3":801,"TH0123":2175},
{"t":174,"TH0":432,"TH1":455,"TH2":574,"TH3":716,"TH0123":2215},
{"t":178,"TH0":476,"TH1":436,"TH2":516,"TH3":749,"TH0123":2095},
{"t":182,"TH0":454,"TH1":487,"TH2":556,"TH3":782,"TH0123":2210},
{"t":186,"TH0":515,"TH1":412,"TH2":584,"TH3":733,"TH0123":2130},
{"t":190,"TH0":428,"TH1":448,"TH2":523,"TH3":758,"TH0123":2175},
{"t":194,"TH0":487,"TH1":479,"TH2":577,"TH3":789,"TH0123":2250},
{"t":198,"TH0":449,"TH1":421,"TH2":540,"TH3":726,"TH0123":2160},
{"t":202,"TH0":472,"TH1":456,"TH2":551,"TH3":741,"TH0123":2195},
{"t":206,"TH0":506,"TH1":470,"TH2":512,"TH3":796,"TH0123":2140},
{"t":210,"TH0":438,"TH1":403,"TH2":586,"TH3":717,"TH0123":2230},
{"t":214,"TH0":493,"TH1":483,"TH2":557,"TH3":772,"TH0123":2175},
{"t":218,"TH0":426,"TH1":441,"TH2":532,"TH3":735,"TH0123":2260},
{"t":222,"TH0":468,"TH1":425,"TH2":571,"TH3":749,"TH0123":2185},
{"t":226,"TH0":504,"TH1":468,"TH2":520,"TH3":794,"TH0123":2115},
{"t":230,"TH0":437,"TH1":452,"TH2":566,"TH3":727,"TH0123":2240},
{"t":234,"TH0":491,"TH1":497,"TH2":541,"TH3":778,"TH0123":2175},
{"t":238,"TH0":459,"TH1":415,"TH2":592,"TH3":751,"TH0123":2210},
{"t":242,"TH0":521,"TH1":444,"TH2":527,"TH3":733,"TH0123":2155},
{"t":246,"TH0":433,"TH1":481,"TH2":554,"TH3":801,"TH0123":2270},
{"t":250,"TH0":479,"TH1":433,"TH2":579,"TH3":739,"TH0123":2195},
{"t":254,"TH0":462,"TH1":458,"TH2":511,"TH3":766,"TH0123":2130},
{"t":258,"TH0":497,"TH1":410,"TH2":560,"TH3":720,"TH0123":2225},
{"t":262,"TH0":446,"TH1":462,"TH2":528,"TH3":757,"TH0123":2175},
{"t":266,"TH0":490,"TH1":495,"TH2":576,"TH3":806,"TH0123":2230},
{"t":270,"TH0":471,"TH1":428,"TH2":548,"TH3":745,"TH0123":2145},
{"t":274,"TH0":419,"TH1":469,"TH2":519,"TH3":779,"TH0123":2110},
{"t":278,"TH0":508,"TH1":443,"TH2":563,"TH3":738,"TH0123":2195},
{"t":282,"TH0":485,"TH1":411,"TH2":587,"TH3":792,"TH0123":2165},
{"t":286,"TH0":437,"TH1":484,"TH2":543,"TH3":726,"TH0123":2215},
{"t":290,"TH0":499,"TH1":456,"TH2":572,"TH3":772,"TH0123":2140},
{"t":294,"TH0":456,"TH1":419,"TH2":529,"TH3":813,"TH0123":2180},
{"t":298,"TH0":423,"TH1":473,"TH2":595,"TH3":749,"TH0123":2210},
{"t":302,"TH0":485,"TH1":448,"TH2":561,"TH3":743,"TH0123":2180},
{"t":306,"TH0":466,"TH1":486,"TH2":524,"TH3":791,"TH0123":2250},
{"t":310,"TH0":507,"TH1":409,"TH2":588,"TH3":767,"TH0123":2195},
{"t":314,"TH0":431,"TH1":457,"TH2":536,"TH3":738,"TH0123":2215},
{"t":318,"TH0":462,"TH1":429,"TH2":569,"TH3":804,"TH0123":2165},
{"t":322,"TH0":494,"TH1":467,"TH2":514,"TH3":754,"TH0123":2280},
{"t":326,"TH0":449,"TH1":493,"TH2":581,"TH3":729,"TH0123":2205},
{"t":330,"TH0":426,"TH1":422,"TH2":549,"TH3":779,"TH0123":2245},
{"t":334,"TH0":515,"TH1":445,"TH2":565,"TH3":748,"TH0123":2185},
{"t":338,"TH0":479,"TH1":470,"TH2":528,"TH3":796,"TH0123":2265},
{"t":342,"TH0":457,"TH1":416,"TH2":545,"TH3":731,"TH0123":2200},
{"t":346,"TH0":473,"TH1":459,"TH2":594,"TH3":783,"TH0123":2160},
{"t":350,"TH0":441,"TH1":484,"TH2":518,"TH3":752,"TH0123":2285},
{"t":354,"TH0":499,"TH1":431,"TH2":576,"TH3":811,"TH0123":2215},
{"t":358,"TH0":433,"TH1":463,"TH2":553,"TH3":739,"TH0123":2180},
{"t":362,"TH0":511,"TH1":418,"TH2":531,"TH3":764,"TH0123":2255},
{"t":366,"TH0":462,"TH1":487,"TH2":588,"TH3":797,"TH0123":2170},
{"t":370,"TH0":487,"TH1":449,"TH2":524,"TH3":726,"TH0123":2230},
{"t":374,"TH0":420,"TH1":426,"TH2":566,"TH3":778,"TH0123":2290},
{"t":378,"TH0":505,"TH1":494,"TH2":593,"TH3":752,"TH0123":2195},
{"t":382,"TH0":484,"TH1":453,"TH2":527,"TH3":745,"TH0123":2230},
{"t":386,"TH0":520,"TH1":421,"TH2":566,"TH3":808,"TH0123":2290},
{"t":390,"TH0":451,"TH1":467,"TH2":598,"TH3":734,"TH0123":2170},
{"t":394,"TH0":476,"TH1":499,"TH2":540,"TH3":792,"TH0123":2250},
{"t":398,"TH0":441,"TH1":412,"TH2":512,"TH3":757,"TH0123":2205},
{"t":402,"TH0":497,"TH1":445,"TH2":573,"TH3":727,"TH0123":2320},
{"t":406,"TH0":462,"TH1":477,"TH2":558,"TH3":815,"TH0123":2185},
{"t":410,"TH0":513,"TH1":436,"TH2":591,"TH3":766,"TH0123":2260},
{"t":414,"TH0":437,"TH1":461,"TH2":547,"TH3":739,"TH0123":2220},
{"t":418,"TH0":490,"TH1":488,"TH2":582,"TH3":783,"TH0123":2305},
{"t":422,"TH0":476,"TH1":427,"TH2":569,"TH3":764,"TH0123":2205},
{"t":426,"TH0":438,"TH1":463,"TH2":524,"TH3":736,"TH0123":2250},
{"t":430,"TH0":459,"TH1":445,"TH2":556,"TH3":771,"TH0123":2190}
]},
"vconcat": [
{
 "width": 603, "height": 90, "data": {"name": "d"},
 "title": {"text": "ae708038010_20130513073820_wam2_trn_4band_long.qdp", "anchor": "start", "frame": "group", "offset": -9.5, "baseline": "alphabetic", "fontSize": 14.6, "fontWeight": "normal", "font": "Liberation Sans", "color": "#000"},
 "layer": [
  {"mark": {"type": "line", "color": "#ff0000", "strokeWidth": 3.5, "opacity": 0.4, "clip": true},
   "encoding": {
    "x": {"field": "t", "type": "quantitative", "scale": {"domain": [-523, 452], "nice": false, "zero": false}, "axis": {"orient": "bottom", "values": [-500,-400,-300,-200,-100,0,100,200,300,400], "labels": false, "title": null, "tickSize": -7}},
    "y": {"field": "TH0", "type": "quantitative", "scale": {"domain": [389, 564], "nice": false, "zero": false}, "axis": {"orient": "left", "values": [400,450,500,550], "title": null, "tickSize": -7, "labelPadding": 14}}}},
  {"mark": {"type": "line", "color": "#ff0000", "strokeWidth": 1, "clip": true},
   "encoding": {
    "x": {"field": "t", "type": "quantitative", "axis": {"orient": "top", "values": [-500,-400,-300,-200,-100,0,100,200,300,400], "labels": false, "title": null, "tickSize": -7}},
    "y": {"field": "TH0", "type": "quantitative", "axis": {"orient": "right", "values": [400,450,500,550], "labels": false, "title": null, "tickSize": -7}}}},
  {"mark": {"type": "line", "opacity": 0},
   "encoding": {"x": {"field": "t", "type": "quantitative", "axis": null},
    "y": {"field": "TH0", "type": "quantitative", "axis": {"orient": "left", "values": [390,400,410,420,430,440,450,460,470,480,490,500,510,520,530,540,550,560], "labels": false, "title": null, "tickSize": -3.5}}}},
  {"mark": {"type": "line", "opacity": 0},
   "encoding": {"x": {"field": "t", "type": "quantitative", "axis": null},
    "y": {"field": "TH0", "type": "quantitative", "axis": {"orient": "right", "values": [390,400,410,420,430,440,450,460,470,480,490,500,510,520,530,540,550,560], "labels": false, "title": null, "tickSize": -3.5}}}},
  {"data": {"values": [{"label": "TH0"}]},
   "mark": {"type": "text", "align": "right", "baseline": "middle", "fontSize": 15, "font": "Liberation Sans", "color": "#000"},
   "encoding": {"text": {"field": "label"}, "x": {"datum": 440, "type": "quantitative", "axis": null}, "y": {"datum": 545, "type": "quantitative", "axis": null}}}
 ],
 "resolve": {"axis": {"x": "independent", "y": "independent"}}
},
{
 "width": 603, "height": 90, "data": {"name": "d"},
 "layer": [
  {"mark": {"type": "line", "color": "#00ff00", "strokeWidth": 3.5, "opacity": 0.4, "clip": true},
   "encoding": {
    "x": {"field": "t", "type": "quantitative", "scale": {"domain": [-523, 452], "nice": false, "zero": false}, "axis": {"orient": "bottom", "values": [-500,-400,-300,-200,-100,0,100,200,300,400], "labels": false, "title": null, "tickSize": -7}},
    "y": {"field": "TH1", "type": "quantitative", "scale": {"domain": [359, 501], "nice": false, "zero": false}, "axis": {"orient": "left", "values": [400,450,500], "title": null, "tickSize": -7, "labelPadding": 14}}}},
  {"mark": {"type": "line", "color": "#00ff00", "strokeWidth": 1, "clip": true},
   "encoding": {
    "x": {"field": "t", "type": "quantitative", "axis": {"orient": "top", "values": [-500,-400,-300,-200,-100,0,100,200,300,400], "labels": false, "title": null, "tickSize": -7}},
    "y": {"field": "TH1", "type": "quantitative", "axis": {"orient": "right", "values": [400,450,500], "labels": false, "title": null, "tickSize": -7}}}},
  {"mark": {"type": "line", "opacity": 0},
   "encoding": {"x": {"field": "t", "type": "quantitative", "axis": null},
    "y": {"field": "TH1", "type": "quantitative", "axis": {"orient": "left", "values": [360,370,380,390,400,410,420,430,440,450,460,470,480,490,500], "labels": false, "title": null, "tickSize": -3.5}}}},
  {"mark": {"type": "line", "opacity": 0},
   "encoding": {"x": {"field": "t", "type": "quantitative", "axis": null},
    "y": {"field": "TH1", "type": "quantitative", "axis": {"orient": "right", "values": [360,370,380,390,400,410,420,430,440,450,460,470,480,490,500], "labels": false, "title": null, "tickSize": -3.5}}}},
  {"data": {"values": [{"label": "TH1"}]},
   "mark": {"type": "text", "align": "right", "baseline": "middle", "fontSize": 15, "font": "Liberation Sans", "color": "#000"},
   "encoding": {"text": {"field": "label"}, "x": {"datum": 440, "type": "quantitative", "axis": null}, "y": {"datum": 485, "type": "quantitative", "axis": null}}}
 ],
 "resolve": {"axis": {"x": "independent", "y": "independent"}}
},
{
 "width": 603, "height": 90, "data": {"name": "d"},
 "layer": [
  {"mark": {"type": "line", "color": "#0000ff", "strokeWidth": 3.5, "opacity": 0.4, "clip": true},
   "encoding": {
    "x": {"field": "t", "type": "quantitative", "scale": {"domain": [-523, 452], "nice": false, "zero": false}, "axis": {"orient": "bottom", "values": [-500,-400,-300,-200,-100,0,100,200,300,400], "labels": false, "title": null, "tickSize": -7}},
    "y": {"field": "TH2", "type": "quantitative", "scale": {"domain": [470, 631], "nice": false, "zero": false}, "axis": {"orient": "left", "values": [500,550,600], "title": "Counts/sec", "titlePadding": 16, "tickSize": -7, "labelPadding": 14}}}},
  {"mark": {"type": "line", "color": "#0000ff", "strokeWidth": 1, "clip": true},
   "encoding": {
    "x": {"field": "t", "type": "quantitative", "axis": {"orient": "top", "values": [-500,-400,-300,-200,-100,0,100,200,300,400], "labels": false, "title": null, "tickSize": -7}},
    "y": {"field": "TH2", "type": "quantitative", "axis": {"orient": "right", "values": [500,550,600], "labels": false, "title": null, "tickSize": -7}}}},
  {"mark": {"type": "line", "opacity": 0},
   "encoding": {"x": {"field": "t", "type": "quantitative", "axis": null},
    "y": {"field": "TH2", "type": "quantitative", "axis": {"orient": "left", "values": [470,480,490,500,510,520,530,540,550,560,570,580,590,600,610,620,630], "labels": false, "title": null, "tickSize": -3.5}}}},
  {"mark": {"type": "line", "opacity": 0},
   "encoding": {"x": {"field": "t", "type": "quantitative", "axis": null},
    "y": {"field": "TH2", "type": "quantitative", "axis": {"orient": "right", "values": [470,480,490,500,510,520,530,540,550,560,570,580,590,600,610,620,630], "labels": false, "title": null, "tickSize": -3.5}}}},
  {"data": {"values": [{"label": "TH2"}]},
   "mark": {"type": "text", "align": "right", "baseline": "middle", "fontSize": 15, "font": "Liberation Sans", "color": "#000"},
   "encoding": {"text": {"field": "label"}, "x": {"datum": 440, "type": "quantitative", "axis": null}, "y": {"datum": 613, "type": "quantitative", "axis": null}}}
 ],
 "resolve": {"axis": {"x": "independent", "y": "independent"}}
},
{
 "width": 603, "height": 90, "data": {"name": "d"},
 "layer": [
  {"mark": {"type": "line", "color": "#00ffff", "strokeWidth": 3.5, "opacity": 0.4, "clip": true},
   "encoding": {
    "x": {"field": "t", "type": "quantitative", "scale": {"domain": [-523, 452], "nice": false, "zero": false}, "axis": {"orient": "bottom", "values": [-500,-400,-300,-200,-100,0,100,200,300,400], "labels": false, "title": null, "tickSize": -7}},
    "y": {"field": "TH3", "type": "quantitative", "scale": {"domain": [665, 854], "nice": false, "zero": false}, "axis": {"orient": "left", "values": [700,750,800,850], "title": null, "tickSize": -7, "labelPadding": 14}}}},
  {"mark": {"type": "line", "color": "#00ffff", "strokeWidth": 1, "clip": true},
   "encoding": {
    "x": {"field": "t", "type": "quantitative", "axis": {"orient": "top", "values": [-500,-400,-300,-200,-100,0,100,200,300,400], "labels": false, "title": null, "tickSize": -7}},
    "y": {"field": "TH3", "type": "quantitative", "axis": {"orient": "right", "values": [700,750,800,850], "labels": false, "title": null, "tickSize": -7}}}},
  {"mark": {"type": "line", "opacity": 0},
   "encoding": {"x": {"field": "t", "type": "quantitative", "axis": null},
    "y": {"field": "TH3", "type": "quantitative", "axis": {"orient": "left", "values": [670,680,690,700,710,720,730,740,750,760,770,780,790,800,810,820,830,840,850], "labels": false, "title": null, "tickSize": -3.5}}}},
  {"mark": {"type": "line", "opacity": 0},
   "encoding": {"x": {"field": "t", "type": "quantitative", "axis": null},
    "y": {"field": "TH3", "type": "quantitative", "axis": {"orient": "right", "values": [670,680,690,700,710,720,730,740,750,760,770,780,790,800,810,820,830,840,850], "labels": false, "title": null, "tickSize": -3.5}}}},
  {"data": {"values": [{"label": "TH3"}]},
   "mark": {"type": "text", "align": "right", "baseline": "middle", "fontSize": 15, "font": "Liberation Sans", "color": "#000"},
   "encoding": {"text": {"field": "label"}, "x": {"datum": 440, "type": "quantitative", "axis": null}, "y": {"datum": 833, "type": "quantitative", "axis": null}}}
 ],
 "resolve": {"axis": {"x": "independent", "y": "independent"}}
},
{
 "width": 603, "height": 90, "data": {"name": "d"},
 "layer": [
  {"mark": {"type": "line", "color": "#ff00ff", "strokeWidth": 3.5, "opacity": 0.4, "clip": true},
   "encoding": {
    "x": {"field": "t", "type": "quantitative", "scale": {"domain": [-523, 452], "nice": false, "zero": false}, "axis": {"orient": "bottom", "values": [-500,-400,-300,-200,-100,0,100,200,300,400], "labelExpr": "datum.value % 200 === 0 ? datum.label : ''", "title": "Time [sec] 0 = 2013/05/13 07:38:20", "titlePadding": 1, "tickSize": -7, "labelPadding": 13}},
    "y": {"field": "TH0123", "type": "quantitative", "scale": {"domain": [2000, 2435], "nice": false, "zero": false}, "axis": {"orient": "left", "values": [2000,2100,2200,2300,2400], "title": null, "tickSize": -7, "labelPadding": 14}}}},
  {"mark": {"type": "line", "color": "#ff00ff", "strokeWidth": 1, "clip": true},
   "encoding": {
    "x": {"field": "t", "type": "quantitative", "axis": {"orient": "top", "values": [-500,-400,-300,-200,-100,0,100,200,300,400], "labels": false, "title": null, "tickSize": -7}},
    "y": {"field": "TH0123", "type": "quantitative", "axis": {"orient": "right", "values": [2000,2100,2200,2300,2400], "labels": false, "title": null, "tickSize": -7}}}},
  {"mark": {"type": "line", "opacity": 0},
   "encoding": {"x": {"field": "t", "type": "quantitative", "axis": null},
    "y": {"field": "TH0123", "type": "quantitative", "axis": {"orient": "left", "values": [2000,2020,2040,2060,2080,2100,2120,2140,2160,2180,2200,2220,2240,2260,2280,2300,2320,2340,2360,2380,2400,2420], "labels": false, "title": null, "tickSize": -3.5}}}},
  {"mark": {"type": "line", "opacity": 0},
   "encoding": {"x": {"field": "t", "type": "quantitative", "axis": null},
    "y": {"field": "TH0123", "type": "quantitative", "axis": {"orient": "right", "values": [2000,2020,2040,2060,2080,2100,2120,2140,2160,2180,2200,2220,2240,2260,2280,2300,2320,2340,2360,2380,2400,2420], "labels": false, "title": null, "tickSize": -3.5}}}},
  {"data": {"values": [{"label": "TH0123"}]},
   "mark": {"type": "text", "align": "right", "baseline": "middle", "fontSize": 15, "font": "Liberation Sans", "color": "#000"},
   "encoding": {"text": {"field": "label"}, "x": {"datum": 447, "type": "quantitative", "axis": null}, "y": {"datum": 2387, "type": "quantitative", "axis": null}}}
 ],
 "resolve": {"axis": {"x": "independent", "y": "independent"}}
}
]
}
